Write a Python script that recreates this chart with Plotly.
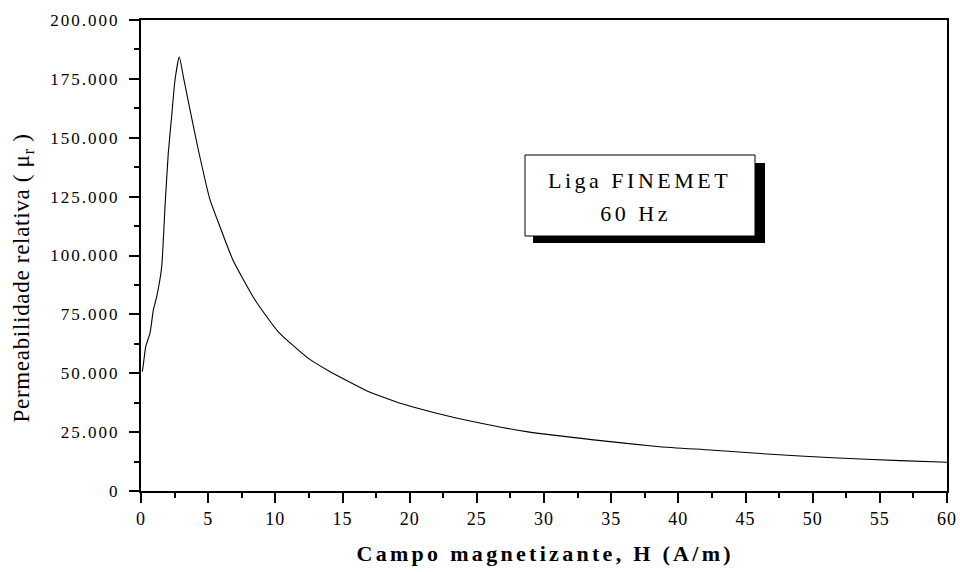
import plotly.graph_objects as go

# Data
H = [0.1, 0.17, 0.35, 0.67, 0.92, 1.17, 1.54, 1.79, 2.03, 2.28, 2.53, 2.85,
     3.15, 3.65, 4.27, 5.14, 5.88, 6.85, 8.49, 10.22, 12.46, 13.95, 16.8,
     19.5, 22.0, 24.5, 28.7, 33.7, 38.6, 42.4, 46.6, 51.5, 56.5, 60.0]
MU = [50700, 53500, 61300, 67000, 76900, 82500, 95200, 121000, 143400, 159000,
      174500, 184400, 176000, 161800, 144800, 123600, 112200, 98000, 81100,
      67600, 56300, 51100, 42600, 36900, 33000, 29700, 25200, 21700, 18800,
      17400, 15700, 14100, 12900, 12200]

x_ticks = [0, 5, 10, 15, 20, 25, 30, 35, 40, 45, 50, 55, 60]
y_ticks = [0, 25000, 50000, 75000, 100000, 125000, 150000, 175000, 200000]
y_tick_labels = ["0", "25.000", "50.000", "75.000", "100.000", "125.000",
                 "150.000", "175.000", "200.000"]

x_title = "Campo magnetizante, H (A/m)"
y_title = "Permeabilidade relativa ( μ<sub>r</sub> )"
box_line1 = "Liga FINEMET"
box_line2 = "60 Hz"

SERIF = "Liberation Serif, Times New Roman, serif"

fig = go.Figure()
fig.add_trace(go.Scatter(x=H, y=MU, mode="lines",
                         line=dict(color="black", width=1.1, shape="spline", smoothing=0.5),
                         hoverinfo="skip", showlegend=False))

W, Hh = 960, 572
L, R, T, B = 141, 13, 20, 81
pw, ph = W - L - R, Hh - T - B


def px(xp):
    return (xp - L) / pw


def py(yp):
    return (Hh - B - yp) / ph


# shadowed label box
fig.add_shape(type="rect", xref="paper", yref="paper",
              x0=px(533), x1=px(765), y0=py(243), y1=py(163),
              fillcolor="black", line=dict(color="black", width=0), layer="above")
fig.add_shape(type="rect", xref="paper", yref="paper",
              x0=px(525), x1=px(755), y0=py(236), y1=py(155),
              fillcolor="white", line=dict(color="black", width=1), layer="above")

fig.add_annotation(text=x_title, xref="paper", yref="paper", x=px(545), y=py(553),
                   showarrow=False, xanchor="center", yanchor="middle",
                   font=dict(family=SERIF, size=22, color="black", weight="bold"))
fig.add_annotation(text=y_title, xref="paper", yref="paper", x=px(23), y=py(278),
                   showarrow=False, xanchor="center", yanchor="middle", textangle=-90,
                   font=dict(family=SERIF, size=23, color="black"))
fig.add_annotation(text=box_line1, xref="paper", yref="paper", x=px(640), y=py(180),
                   showarrow=False, xanchor="center", yanchor="middle",
                   font=dict(family=SERIF, size=22, color="black"))
fig.add_annotation(text=box_line2, xref="paper", yref="paper", x=px(635), y=py(213),
                   showarrow=False, xanchor="center", yanchor="middle",
                   font=dict(family=SERIF, size=22, color="black"))

axis_common = dict(showline=True, linecolor="black", linewidth=2, mirror=True,
                   ticks="outside", ticklen=10, tickwidth=2, tickcolor="black",
                   showgrid=False, zeroline=False)

fig.update_xaxes(range=[0, 60], tickmode="array", tickvals=x_ticks,
                 minor=dict(dtick=2.5, ticks="outside", ticklen=5, tickwidth=2,
                            tickcolor="black", showgrid=False),
                 tickfont=dict(family=SERIF, size=18, color="black"),
                 ticklabelstandoff=0, **axis_common)
fig.update_yaxes(range=[0, 200000], tickmode="array", tickvals=y_ticks,
                 ticktext=y_tick_labels,
                 minor=dict(dtick=12500, ticks="outside", ticklen=5, tickwidth=2,
                            tickcolor="black", showgrid=False),
                 tickfont=dict(family=SERIF, size=17, color="black"),
                 ticklabelstandoff=6, **axis_common)

fig.update_layout(width=W, height=Hh, margin=dict(l=L, r=R, t=T, b=B, autoexpand=False),
                  plot_bgcolor="white", paper_bgcolor="white", showlegend=False)

post = """
function sp(sel, v){document.querySelectorAll(sel).forEach(function(t){t.style.letterSpacing=v;});}
sp('.xtick text', '1px');
sp('.ytick text', '2px');
sp('.annotation[data-index="0"] text', '3.3px');
sp('.annotation[data-index="1"] text', '0.7px');
sp('.annotation[data-index="2"] text', '3.5px');
sp('.annotation[data-index="3"] text', '3.5px');
"""

fig.write_html("out.html", post_script=post, config={"displayModeBar": False})
